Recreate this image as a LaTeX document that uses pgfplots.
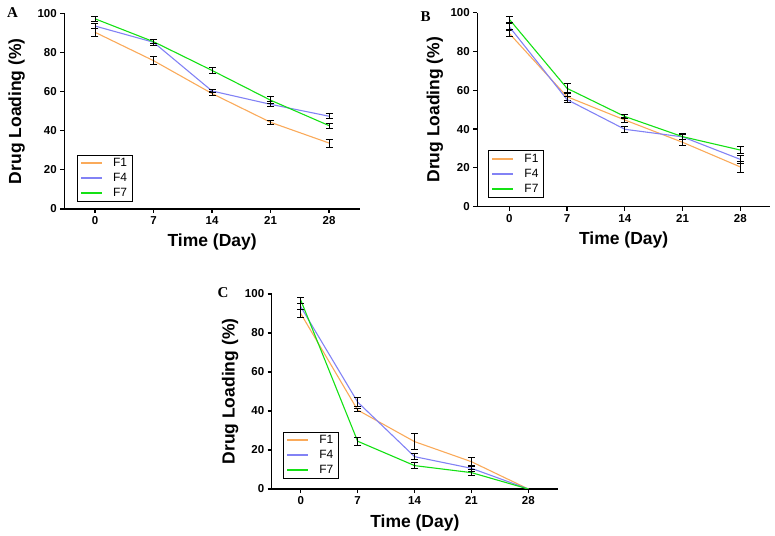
\documentclass[border=0pt]{standalone}
\usepackage{pgfplots}
\pgfplotsset{compat=1.18}
\usepackage{pgfplotstable}
\usepackage{fontspec}
\setmainfont{Liberation Sans}
\newfontfamily\letterfont{Liberation Serif}

\definecolor{cF1}{RGB}{250,170,90}
\definecolor{cF4}{RGB}{130,130,245}
\definecolor{cF7}{RGB}{20,225,20}

\pgfplotstableread{
d F1 e1 F4 e4 F7 e7
0 90.3 2.0 93.5 1.5 97.2 1.4
7 75.8 2.0 85.2 1.5 85.5 1.0
14 59.0 1.0 60.3 1.0 70.8 1.4
21 44.3 1.0 53.5 1.3 55.6 1.8
28 33.7 2.0 47.4 1.3 42.6 1.3
}\tabA

\pgfplotstableread{
d F1 e1 F4 e4 F7 e7
0 89.3 1.5 92.8 1.5 96.6 1.7
7 56.7 2.0 55.2 1.5 61.0 2.5
14 44.7 1.5 39.9 1.5 46.5 1.0
21 33.2 1.5 36.0 1.5 36.1 1.2
28 20.5 2.8 24.4 2.0 29.2 2.0
}\tabB

\pgfplotstableread{
d F1 e1 F4 e4 F7 e7
0 90.0 2.0 93.5 1.5 96.9 1.5
7 40.5 0.7 44.6 2.2 24.5 2.0
14 24.3 4.0 16.6 1.4 12.0 1.4
21 14.0 2.3 10.6 1.4 8.4 1.5
28 0 0 0 0 0 0
}\tabC

\pgfplotsset{
  panel/.style={
    scale only axis, clip=false,
    axis lines=left,
    axis line style={-, line width=1.5pt},
    ymin=0, ymax=100, ytick={0,20,...,100},
    xtick={0,7,14,21,28},
    tick style={black, line width=1.2pt},
    tick align=outside, major tick length=4pt,
    ticklabel style={font=\fontsize{11.5}{13}\selectfont\bfseries},
    /pgf/number format/assume math mode=true,
    label style={font=\fontsize{17.5}{20}\selectfont\bfseries},
    xlabel={Time (Day)}, ylabel={Drug Loading (\%)},
    legend style={draw=black, line width=0.8pt, font=\fontsize{12}{14}\selectfont,
      anchor=south west, inner xsep=3pt, inner ysep=1.5pt, row sep=1.2pt, column sep=8pt},
    legend cell align=left,
    legend image code/.code={\draw[#1] (0pt,0pt) -- (21pt,0pt);},
    error bars/error bar style={black, line width=0.9pt},
    error bars/error mark options={rotate=90, black, mark size=3.5pt, line width=0.9pt},
  },
  ser/.style={#1, line width=1.1pt, mark=none, forget plot},
}
\newcommand\legendset{%
  \addlegendimage{cF1, line width=2pt}\addlegendentry{F1}
  \addlegendimage{cF4, line width=2pt}\addlegendentry{F4}
  \addlegendimage{cF7, line width=2pt}\addlegendentry{F7}}

\begin{document}
\begin{tikzpicture}
\path[use as bounding box] (0,0) rectangle (775pt,535pt);

% Panel A
\begin{axis}[panel, at={(64.3pt,326pt)}, anchor=south west,
  width=295.7pt, height=195.7pt, xmin=-3.67, xmax=31.7,
  ylabel style={at={(axis description cs:-0.161,0.5)}, anchor=center},
  xlabel style={at={(axis description cs:0.5,-0.169)}, anchor=center},
  legend style={at={(axis description cs:0.042,0.035)}}]
\legendset
\addplot[ser=cF1, error bars/.cd, y dir=both, y explicit] table[x=d, y=F1, y error=e1] {\tabA};
\addplot[ser=cF4, error bars/.cd, y dir=both, y explicit] table[x=d, y=F4, y error=e4] {\tabA};
\addplot[ser=cF7, error bars/.cd, y dir=both, y explicit] table[x=d, y=F7, y error=e7] {\tabA};
\end{axis}

% Panel B
\begin{axis}[panel, at={(477.3pt,328.3pt)}, anchor=south west,
  width=292.7pt, height=194pt, xmin=-3.88, xmax=31.6,
  ylabel style={at={(axis description cs:-0.1445,0.5)}, anchor=center},
  xlabel style={at={(axis description cs:0.5,-0.172)}, anchor=center},
  legend style={at={(axis description cs:0.0366,0.045)}}]
\legendset
\addplot[ser=cF1, error bars/.cd, y dir=both, y explicit] table[x=d, y=F1, y error=e1] {\tabB};
\addplot[ser=cF4, error bars/.cd, y dir=both, y explicit] table[x=d, y=F4, y error=e4] {\tabB};
\addplot[ser=cF7, error bars/.cd, y dir=both, y explicit] table[x=d, y=F7, y error=e7] {\tabB};
\end{axis}

% Panel C
\begin{axis}[panel, at={(271.7pt,46pt)}, anchor=south west,
  width=286.3pt, height=195pt, xmin=-3.57, xmax=31.65,
  ylabel style={at={(axis description cs:-0.1456,0.5)}, anchor=center},
  xlabel style={at={(axis description cs:0.5,-0.172)}, anchor=center},
  legend style={at={(axis description cs:0.039,0.051)}}]
\legendset
\addplot[ser=cF1, error bars/.cd, y dir=both, y explicit] table[x=d, y=F1, y error=e1] {\tabC};
\addplot[ser=cF4, error bars/.cd, y dir=both, y explicit] table[x=d, y=F4, y error=e4] {\tabC};
\addplot[ser=cF7, error bars/.cd, y dir=both, y explicit] table[x=d, y=F7, y error=e7] {\tabC};
\end{axis}

\node[font=\letterfont\bfseries\fontsize{15}{16}\selectfont] at (12.5pt,522.5pt) {A};
\node[font=\letterfont\bfseries\fontsize{15}{16}\selectfont] at (425.5pt,518.5pt) {B};
\node[font=\letterfont\bfseries\fontsize{15}{16}\selectfont] at (223pt,242pt) {C};
\end{tikzpicture}
\end{document}
